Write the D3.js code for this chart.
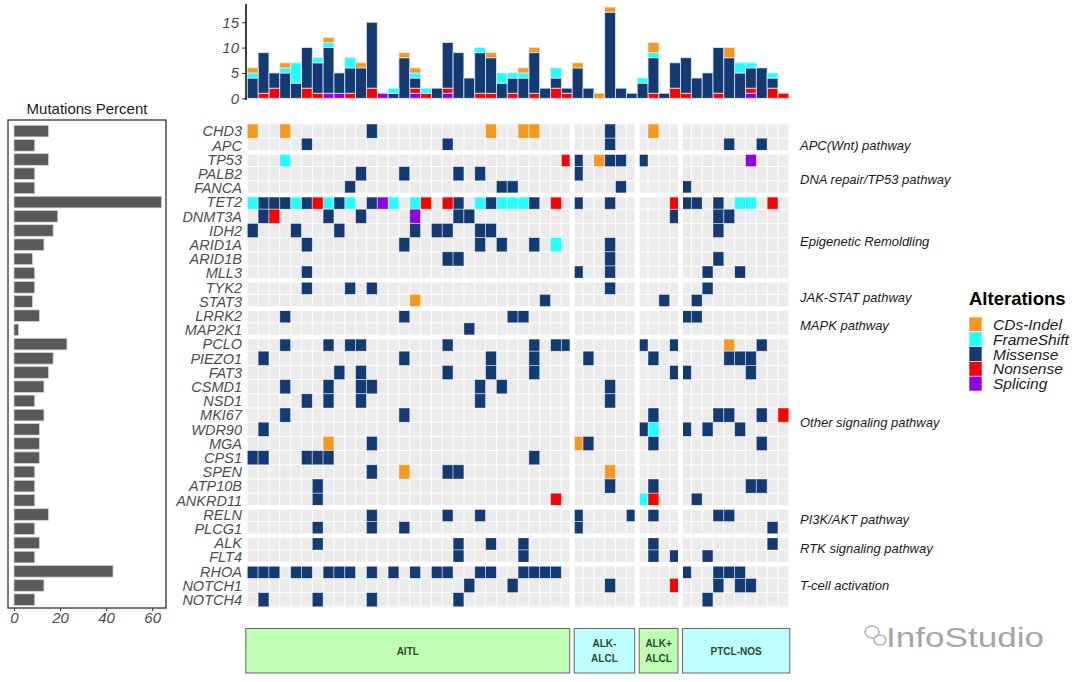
<!DOCTYPE html>
<html>
<head>
<meta charset="utf-8">
<script src="https://cdn.jsdelivr.net/npm/d3@7"></script>
<style>
  body { margin: 0; background: #fff; }
  text { font-family: "Liberation Sans", Arial, sans-serif; }
</style>
</head>
<body>
<svg id="chart" width="1080" height="682"></svg>
<script>
// genes, top to bottom
const genes = ["CHD3","APC","TP53","PALB2","FANCA","TET2","DNMT3A","IDH2","ARID1A","ARID1B","MLL3",
  "TYK2","STAT3","LRRK2","MAP2K1","PCLO","PIEZO1","FAT3","CSMD1","NSD1","MKI67","WDR90","MGA",
  "CPS1","SPEN","ATP10B","ANKRD11","RELN","PLCG1","ALK","FLT4","RHOA","NOTCH1","NOTCH4"];
const mutPercent = [15,9,15,9,9,64,19,17,13,8,9,9,8,11,2,23,17,15,13,9,13,11,11,11,9,9,9,15,9,11,9,43,13,9];

const pathways = [["APC(Wnt) pathway",2],["DNA repair/TP53 pathway",3],["Epigenetic Remoldling",6],
  ["JAK-STAT pathway",2],["MAPK pathway",2],["Other signaling pathway",12],["PI3K/AKT pathway",2],
  ["RTK signaling pathway",2],["T-cell activation",3]];
const sampleGroups = [["AITL",30],["ALK-|ALCL",6],["ALK+|ALCL",4],["PTCL-NOS",10]];

// alteration tiles: [gene, sample columns]
const cdsIndel = [["CHD3",[0,3,22,25,26,37]],["TP53",[32]],["STAT3",[15]],["PCLO",[44]],["MGA",[7,30]],["SPEN",[14,33]]];
const frameShift = [["TP53",[3]],["TET2",[0,4,7,9,13,15,21,23,24,25,45,46]],["ARID1A",[28]],["WDR90",[37]],["ANKRD11",[36]]];
const nonsense = [["TP53",[29]],["TET2",[6,16,18,28,39,48]],["DNMT3A",[2]],["MKI67",[49]],["ANKRD11",[28,37]],["NOTCH1",[39]]];
const splicing = [["TP53",[46]],["TET2",[12]],["DNMT3A",[15]]];
const missense = [
  ["CHD3",[11,33]],["APC",[5,18,33,44,47]],["TP53",[30,33,34,36]],["PALB2",[10,14,19,21,30]],
  ["FANCA",[9,23,24,34,40]],["TET2",[1,2,3,5,8,11,19,22,26,30,33,40,41,43]],
  ["DNMT3A",[1,7,10,19,20,39,43,44]],["IDH2",[0,4,8,15,17,18,21,22,43]],["ARID1A",[5,14,21,23,26,33]],
  ["ARID1B",[18,19,33,43]],["MLL3",[5,30,33,42,45]],["TYK2",[5,9,11,33,42]],["STAT3",[27,38,41]],
  ["LRRK2",[3,14,24,25,40,41]],["MAP2K1",[20]],["PCLO",[3,7,9,10,18,26,28,29,36,39,47]],
  ["PIEZO1",[1,14,22,26,31,37,44,45,46]],["FAT3",[8,10,18,22,26,39,40,46]],["CSMD1",[3,7,10,11,21,23,33]],
  ["NSD1",[5,7,10,21,33]],["MKI67",[3,14,37,43,44,47]],["WDR90",[1,36,40,42,45]],["MGA",[11,31,37,47]],
  ["CPS1",[0,1,5,6,7,26]],["SPEN",[11,18,19]],["ATP10B",[6,33,37,46,47]],["ANKRD11",[6,41]],
  ["RELN",[11,18,21,30,35,37,43,44]],["PLCG1",[6,11,14,30,48]],["ALK",[6,19,22,25,37,48]],
  ["FLT4",[19,25,37,39,42]],["RHOA",[0,1,2,4,5,7,8,9,11,13,15,17,18,21,22,25,26,27,28,40,43,44,45]],
  ["NOTCH1",[20,24,33,43,45,46]],["NOTCH4",[1,6,11,19,42]]];

// mutations per sample (top bars)
const topSplicing   = [0,0,0,0,0,0,0,1,1,0, 0,0,1,0,0,1,0,0,1,0, 0,0,0,0,0,0,0,0,0,0, 0,0,0,0,0,0,0,0,0,0, 0,0,0,0,0,0,1,0,0,0];
const topNonsense   = [0,1,2,0,0,2,1,0,0,1, 0,2,0,0,0,1,1,0,1,0, 0,1,1,0,1,0,1,0,2,1, 0,0,0,0,0,0,0,1,0,2, 1,0,0,1,0,0,1,0,2,1];
const topMissense   = [4,8,3,5,3,8,6,9,4,5, 6,13,0,1,8,2,0,2,9,9, 4,8,7,3,3,4,8,2,2,1, 6,2,0,17,2,1,3,7,1,5, 7,4,5,9,8,5,4,6,2,0];
const topFrameShift = [1,0,0,1,4,0,1,1,0,2, 0,0,0,1,0,1,1,0,0,0, 0,1,0,2,1,1,0,0,2,0, 0,0,0,0,0,0,1,1,0,0, 0,0,0,0,0,2,1,0,1,0];
const topIndel      = [1,0,0,1,0,0,0,1,0,0, 1,0,0,0,1,1,0,0,0,0, 0,0,1,0,0,1,1,0,0,0, 1,0,1,1,0,0,0,2,0,0, 0,0,0,0,2,0,0,0,0,0];

const types = ["CDs-Indel","FrameShift","Missense","Nonsense","Splicing"];
const colors = {"CDs-Indel":"#F8971D","FrameShift":"#22FFFF","Missense":"#133A72","Nonsense":"#FF0000","Splicing":"#9000E6"};

const svg = d3.select("#chart");
const nSamples = d3.sum(sampleGroups, d => d[1]);
const x = d3.scaleBand().domain(d3.range(nSamples)).range([247.3, 788.8]);
const y = d3.scaleBand().domain(genes).range([124, 606.8]);
const bw = x.bandwidth(), bh = y.bandwidth();

// ---- heatmap panel
const hm = svg.append("g");
hm.append("rect").attr("x", 246.5).attr("y", 123.5).attr("width", 543).attr("height", 484)
  .attr("fill", "#EBEBEB");
hm.selectAll(".vg").data(d3.range(nSamples + 1)).enter().append("line")
  .attr("x1", d => x.range()[0] + d * bw).attr("x2", d => x.range()[0] + d * bw)
  .attr("y1", 123.5).attr("y2", 607.5).attr("stroke", "#fff").attr("stroke-width", 1);
hm.selectAll(".hg").data(d3.range(genes.length + 1)).enter().append("line")
  .attr("y1", d => y.range()[0] + d * bh).attr("y2", d => y.range()[0] + d * bh)
  .attr("x1", 246.5).attr("x2", 789.5).attr("stroke", "#fff").attr("stroke-width", 1);

const tiles = [];
[[cdsIndel,"CDs-Indel"],[frameShift,"FrameShift"],[missense,"Missense"],[nonsense,"Nonsense"],[splicing,"Splicing"]]
  .forEach(([arr, t]) => arr.forEach(([g, cols]) => cols.forEach(c => tiles.push({gene: g, col: c, type: t}))));

hm.selectAll(".tile").data(tiles).enter().append("rect")
  .attr("x", d => x(d.col)).attr("y", d => y(d.gene))
  .attr("width", bw).attr("height", bh)
  .attr("fill", d => colors[d.type])
  .attr("stroke", "#fff").attr("stroke-opacity", 0.55).attr("stroke-width", 0.8);

// white separators between sample groups and gene groups
let acc = 0;
sampleGroups.slice(0, -1).forEach(g => {
  acc += g[1];
  hm.append("rect").attr("x", x(acc) - 2.5).attr("y", 120).attr("width", 5).attr("height", 490).attr("fill", "#fff");
});
acc = 0;
pathways.slice(0, -1).forEach(p => {
  acc += p[1];
  hm.append("rect").attr("x", 244).attr("y", y(genes[acc]) - 2.3).attr("width", 548).attr("height", 4.6).attr("fill", "#fff");
});

// gene labels
svg.selectAll(".gl").data(genes).enter().append("text")
  .attr("x", 242).attr("y", d => y(d) + bh / 2).attr("dy", "0.36em")
  .attr("text-anchor", "end").attr("font-size", 14.5).attr("font-style", "italic")
  .attr("fill", "#4D4D4D").text(d => d);

// pathway labels
const nudges = [7, 6, 4, 3, 3, 0, -2, -2, 0];
acc = 0;
pathways.forEach((p, i) => {
  const y0 = y(genes[acc]), y1 = y(genes[acc + p[1] - 1]) + bh;
  acc += p[1];
  svg.append("text").attr("x", 800).attr("y", (y0 + y1) / 2 + nudges[i]).attr("dy", "0.36em")
    .attr("font-size", 13).attr("font-style", "italic").attr("fill", "#1a1a1a").text(p[0]);
});

// ---- top stacked bars
const topRows = d3.range(nSamples).map(i => ({
  i, "Splicing": topSplicing[i], "Nonsense": topNonsense[i], "Missense": topMissense[i],
  "FrameShift": topFrameShift[i], "CDs-Indel": topIndel[i]}));
const stackKeys = ["Splicing","Nonsense","Missense","FrameShift","CDs-Indel"];
const series = d3.stack().keys(stackKeys)(topRows);
const yTop = d3.scaleLinear().domain([0, 18.8]).range([98.3, 3]);

svg.append("g").selectAll("g").data(series).enter().append("g")
  .attr("fill", d => colors[d.key])
  .selectAll("rect").data(d => d.filter(v => v[1] > v[0])).enter().append("rect")
  .attr("x", d => x(d.data.i)).attr("y", d => yTop(d[1]))
  .attr("width", bw).attr("height", d => yTop(d[0]) - yTop(d[1]))
  .attr("stroke", "#dfe6ef").attr("stroke-width", 0.8);

const topAxis = svg.append("g").attr("transform", "translate(246,0)")
  .call(d3.axisLeft(yTop).tickValues([0, 5, 10, 15]).tickSize(4).tickPadding(3));
topAxis.select(".domain").remove();
topAxis.selectAll(".tick line").attr("stroke", "#333");
topAxis.selectAll("text").attr("font-size", 15).attr("font-style", "italic").attr("fill", "#4D4D4D")
  .attr("font-family", "Liberation Sans, Arial, sans-serif");
svg.append("line").attr("x1", 246).attr("x2", 246).attr("y1", 4).attr("y2", 100)
  .attr("stroke", "#000").attr("stroke-width", 1.5);

// ---- left percent bars
const xL = d3.scaleLinear().domain([0, 66]).range([14, 166]);
svg.append("rect").attr("x", 8).attr("y", 120).attr("width", 158).attr("height", 488)
  .attr("fill", "none").attr("stroke", "#333").attr("stroke-width", 1.3);
svg.selectAll(".lb").data(genes).enter().append("rect")
  .attr("x", xL(0)).attr("y", d => y(d) + 1.3)
  .attr("width", (d, i) => xL(mutPercent[i]) - xL(0)).attr("height", bh - 2.6)
  .attr("fill", "#595959").attr("stroke", "#d0d0d0").attr("stroke-width", 0.8);
const leftAxis = svg.append("g").attr("transform", "translate(0,608)")
  .call(d3.axisBottom(xL).tickValues([0, 20, 40, 60]).tickSize(3).tickPadding(1));
leftAxis.select(".domain").remove();
leftAxis.selectAll(".tick line").attr("stroke", "#333");
leftAxis.selectAll("text").attr("font-size", 15).attr("font-style", "italic").attr("fill", "#4D4D4D")
  .attr("font-family", "Liberation Sans, Arial, sans-serif");
svg.append("text").attr("x", 87).attr("y", 114).attr("text-anchor", "middle")
  .attr("font-size", 15).attr("fill", "#1a1a1a").text("Mutations Percent");

// ---- legend
const lg = svg.append("g").attr("transform", "translate(969,0)");
lg.append("text").attr("x", 0).attr("y", 305).attr("font-size", 18.5).attr("font-weight", "bold")
  .attr("fill", "#000").text("Alterations");
lg.selectAll(".lk").data(types).enter().append("rect")
  .attr("x", 0).attr("y", (d, i) => 317 + i * 14.8).attr("width", 13).attr("height", 14.8)
  .attr("fill", d => colors[d]).attr("stroke", "#fff").attr("stroke-width", 0.6);
lg.selectAll(".lt").data(types).enter().append("text")
  .attr("x", 24).attr("y", (d, i) => 317 + i * 14.8 + 7.4).attr("dy", "0.36em")
  .attr("font-size", 15.5).attr("font-style", "italic").attr("fill", "#1a1a1a").text(d => d);

// ---- sample group boxes
const boxFill = ["#BEFFB4", "#BEFFFF", "#BEFFB4", "#BEFFFF"];
acc = 0;
sampleGroups.forEach((g, i) => {
  const x0 = i === 0 ? x(0) - 1.5 : x(acc) + 2;
  const x1 = acc + g[1] < nSamples ? x(acc + g[1]) - 2.5 : x(nSamples - 1) + bw + 1;
  acc += g[1];
  svg.append("rect").attr("x", x0).attr("y", 628.5).attr("width", x1 - x0).attr("height", 44.5)
    .attr("fill", boxFill[i]).attr("stroke", "#666").attr("stroke-width", 1);
  const lines = g[0].split("|");
  lines.forEach((t, k) => {
    svg.append("text").attr("x", (x0 + x1) / 2).attr("y", 651 + (k - (lines.length - 1) / 2) * 15)
      .attr("dy", "0.36em").attr("text-anchor", "middle").attr("font-size", 10)
      .attr("font-weight", "bold").attr("fill", "#2b4a2b").text(t);
  });
});

// ---- watermark
const wm = svg.append("g").attr("fill", "none").attr("stroke", "#b5b5b5").attr("stroke-width", 1.6);
wm.append("ellipse").attr("cx", 872).attr("cy", 632).attr("rx", 7).attr("ry", 6);
wm.append("ellipse").attr("cx", 880).attr("cy", 640).attr("rx", 6).attr("ry", 5);
svg.append("text").attr("x", 886).attr("y", 647).attr("font-size", 28).attr("fill", "#a6a6a6")
  .attr("textLength", 158).attr("lengthAdjust", "spacingAndGlyphs").text("InfoStudio");
</script>
</body>
</html>
